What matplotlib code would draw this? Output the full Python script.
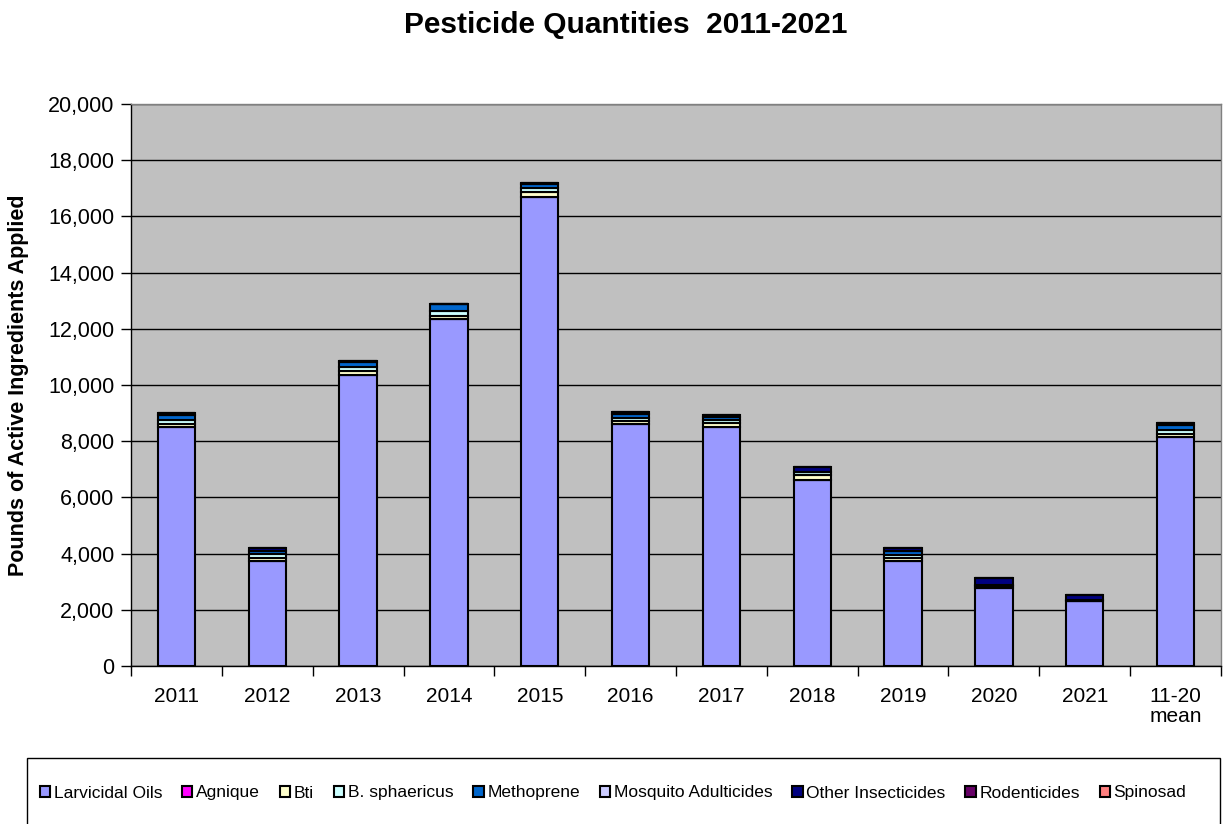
import matplotlib
matplotlib.use("Agg")
import matplotlib.pyplot as plt
import numpy as np
from matplotlib.ticker import FuncFormatter, FixedLocator
from matplotlib.patches import Rectangle

plt.rcParams['font.family'] = ['Liberation Sans', 'DejaVu Sans']

categories = ["2011", "2012", "2013", "2014", "2015", "2016", "2017", "2018", "2019", "2020", "2021", "11-20\nmean"]
series_names = ["Larvicidal Oils", "Agnique", "Bti", "B. sphaericus", "Methoprene",
                "Mosquito Adulticides", "Other Insecticides", "Rodenticides", "Spinosad"]
larvicidal_oils = [8500, 3750, 10350, 12350, 16700, 8600, 8500, 6620, 3720, 2780, 2310, 8150]
agnique = [0, 0, 0, 0, 0, 0, 0, 0, 0, 0, 0, 0]
bti = [100, 80, 150, 120, 170, 120, 150, 160, 120, 60, 20, 110]
b_sphaericus = [170, 160, 150, 150, 140, 110, 90, 110, 120, 40, 20, 130]
methoprene = [150, 120, 160, 250, 140, 130, 130, 20, 150, 0, 0, 180]
mosquito_adulticides = [0, 0, 0, 0, 0, 0, 0, 0, 0, 0, 0, 0]
other_insecticides = [80, 90, 40, 30, 40, 80, 60, 170, 90, 250, 180, 80]
rodenticides = [0, 0, 0, 0, 0, 0, 0, 0, 0, 0, 0, 0]
spinosad = [0, 0, 0, 0, 0, 0, 0, 0, 0, 0, 0, 0]

colors = ["#9999FF", "#FF00FF", "#FFFFCC", "#CCFFFF", "#0066CC",
          "#CCCCFF", "#000080", "#660066", "#FF8080"]

data = [larvicidal_oils, agnique, bti, b_sphaericus, methoprene,
        mosquito_adulticides, other_insecticides, rodenticides, spinosad]

W, H = 1225, 824
fig = plt.figure(figsize=(W / 100, H / 100), dpi=100)
ax = fig.add_axes([131 / W, (H - 666) / H, (1221 - 131) / W, (666 - 104) / H])
ax.set_facecolor("#C0C0C0")

x = np.arange(len(categories))
bottom = np.zeros(len(categories))
handles = []
for name, vals, c in zip(series_names, data, colors):
    vals = np.array(vals, dtype=float)
    h = ax.bar(x, vals, bottom=bottom, width=0.41, color=c, edgecolor="black",
               linewidth=1.5, label=name, zorder=3)
    handles.append(h)
    bottom += vals

ax.set_xlim(-0.5, len(categories) - 0.5)
ax.set_ylim(0, 20000)
ax.set_yticks(np.arange(0, 20001, 2000))
ax.yaxis.set_major_formatter(FuncFormatter(lambda v, p: f"{int(v):,}"))
ax.grid(axis='y', color="black", linewidth=1, zorder=0)
ax.set_axisbelow(True)

ax.set_xticks(x)
ax.set_xticklabels(categories, fontsize=15, linespacing=1.05)
ax.tick_params(axis='x', which='major', length=0, pad=15)
ax.xaxis.set_minor_locator(FixedLocator(np.arange(-0.5, len(categories), 1.0)))
ax.tick_params(axis='x', which='minor', length=7, width=1, color="black")
ax.tick_params(axis='y', labelsize=15.5, length=7, width=1, pad=5)

for s in ["top", "right"]:
    ax.spines[s].set_color("#808080")
    ax.spines[s].set_linewidth(1)
for s in ["left", "bottom"]:
    ax.spines[s].set_color("black")
    ax.spines[s].set_linewidth(1)

ax.set_ylabel("Pounds of Active Ingredients Applied", fontsize=15.5, fontweight="bold")
ax.yaxis.set_label_coords(-(131 - 29) / (1221 - 131), 0.5)
fig.text(0.5105, (H - 25) / H, "Pesticide Quantities  2011-2021", fontsize=21.5, fontweight="bold",
         ha="center", va="center")

# legend box
fig.patches.append(Rectangle((27 / W, -0.02), (1220 - 27) / W, (H - 758) / H + 0.02,
                             transform=fig.transFigure, facecolor="white",
                             edgecolor="black", linewidth=1, zorder=0))
leg = fig.legend(handles=handles, labels=series_names, loc="center",
                 bbox_to_anchor=(613 / W, (H - 793) / H), ncol=9, fontsize=12.5, frameon=False,
                 handlelength=0.6, handleheight=0.6,
                 handletextpad=0.2, columnspacing=1.15, borderpad=0.2)

fig.savefig("out.png", dpi=100)
